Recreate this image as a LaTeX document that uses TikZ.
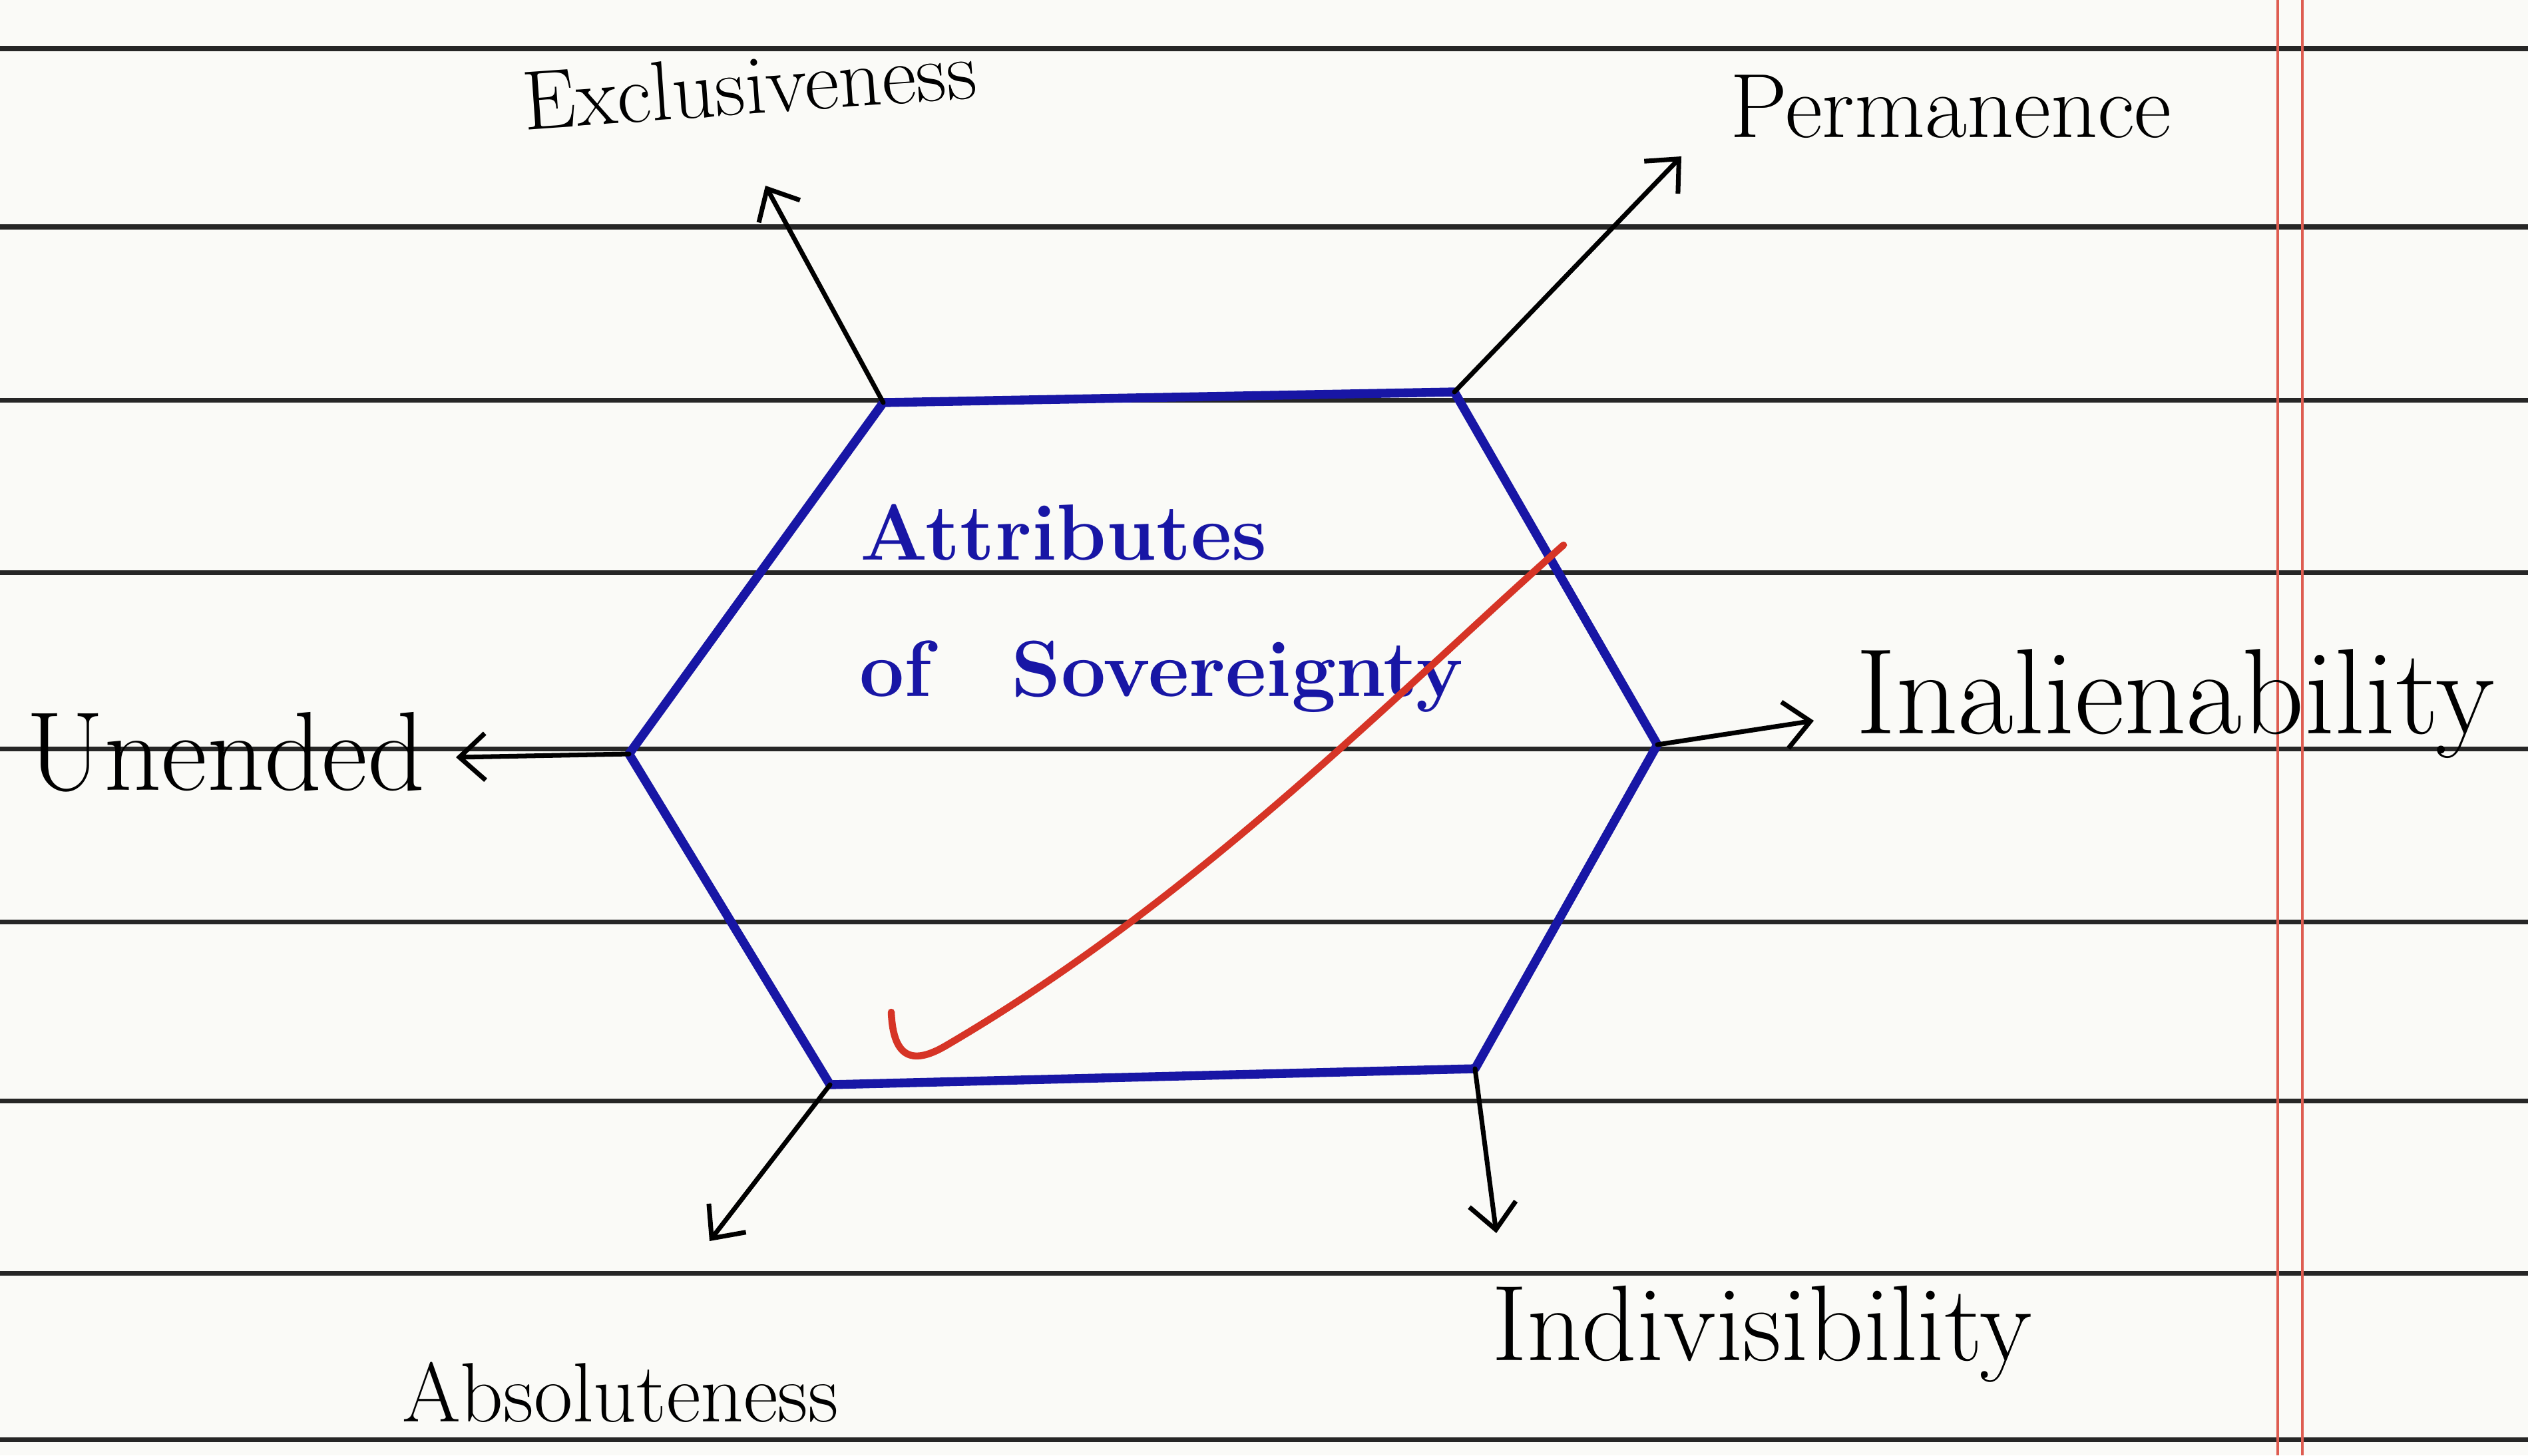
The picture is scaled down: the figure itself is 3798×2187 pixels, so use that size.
\documentclass[tikz,border=0pt]{standalone}
\usepackage{tikz}
\usetikzlibrary{arrows.meta}

\definecolor{inkblue}{RGB}{24,22,165}
\definecolor{tickred}{RGB}{214,52,38}
\definecolor{paper}{RGB}{250,250,247}

\begin{document}
\begin{tikzpicture}[x=0.01cm,y=-0.01cm,>={Straight Barb[length=11pt,width=20pt]}]
  \tikzstyle{rule}=[black!85,line width=2pt]
  \tikzstyle{margin}=[tickred!80,line width=0.9pt]
  \tikzstyle{hexline}=[inkblue,line width=3.8pt,line join=round]
  \tikzstyle{arr}=[->,black,line width=2pt,line cap=round]
  \tikzstyle{attr}=[inner sep=2pt,font=\fontsize{36}{42}\selectfont]
  \tikzstyle{title}=[inkblue,inner sep=2pt,font=\bfseries\fontsize{34}{40}\selectfont]
  % paper and ruling
  \fill[paper] (0,0) rectangle (3798,2187);
  \useasboundingbox (0,0) rectangle (3798,2187);
  \foreach \y in {73,341,601,860,1125,1385,1654,1913,2163}
    \draw[rule] (0,\y) -- (3798,\y);
  \draw[margin] (3422,0) -- (3422,2187);
  \draw[margin] (3459,0) -- (3459,2187);
  % hexagon
  \coordinate (nw) at (1327,605);
  \coordinate (ne) at (2185,589);
  \coordinate (e) at (2490,1119);
  \coordinate (se) at (2216,1606);
  \coordinate (sw) at (1247,1630);
  \coordinate (w) at (945,1133);
  \draw[hexline] (nw) -- (ne) -- (e) -- (se) -- (sw) -- (w) -- cycle;
  \node[title] (attrib) at (1598,800) {Attributes};
  \node[title] (sov) at (1745,1017) {of\quad Sovereignty};
  % labels
  \node[attr,rotate=4] (excl) at (1126,128) {Exclusiveness};
  \node[attr,font=\fontsize{39}{45}\selectfont] (perm) at (2931,160) {Permanence};
  \node[attr,font=\fontsize{48}{54}\selectfont] (unend) at (339,1130) {Unended};
  \node[attr,font=\fontsize{52}{58}\selectfont] (inal) at (3268,1058) {Inalienability};
  \node[attr,font=\fontsize{46}{52}\selectfont] (indiv) at (2647,2005) {Indivisibility};
  \node[attr] (absol) at (932,2092) {Absoluteness};
  % arrow ends
  \coordinate (excl tip) at (1150,279);
  \coordinate (perm tip) at (2526,235);
  \coordinate (inal tip) at (2725,1083);
  \coordinate (unend tip) at (685,1138);
  \coordinate (indiv tip) at (2248,1853);
  \coordinate (absol tip) at (1066,1865);
  \draw[arr] (nw) -- (excl tip);
  \draw[arr] (ne) -- (perm tip);
  \draw[arr] (e) -- (inal tip);
  \draw[arr] (w) -- (unend tip);
  \draw[arr] (se) -- (indiv tip);
  \draw[arr] (sw) -- (absol tip);
  % red tick
  \draw[tickred,line width=3pt,line cap=round] (1339,1521) .. controls (1342,1595) and (1375,1598) .. (1420,1572)
    .. controls (1800,1350) and (2100,1040) .. (2349,819);
\end{tikzpicture}
\end{document}
